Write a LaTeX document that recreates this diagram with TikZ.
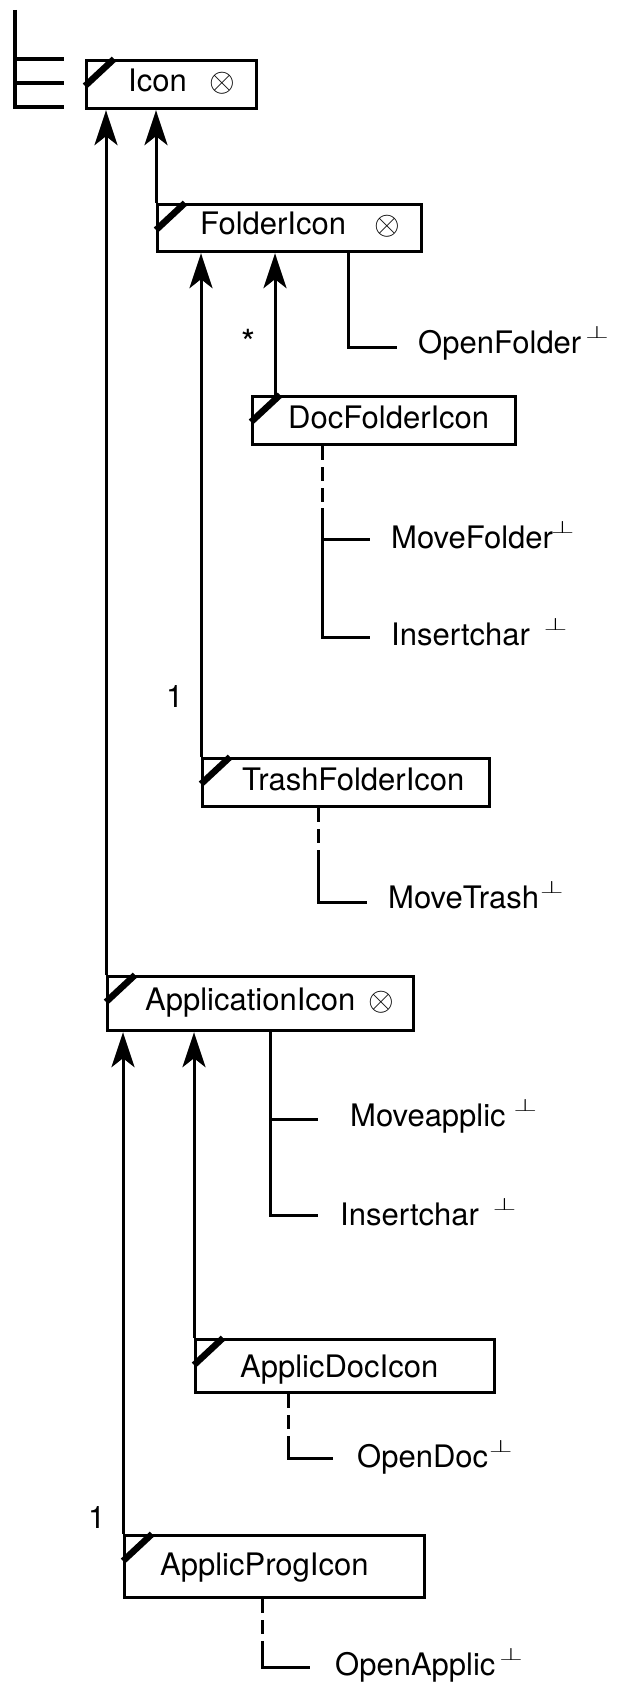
\RequirePackage{fix-cm}
\documentclass[tikz,border=0pt]{standalone}
\usepackage{graphicx}
\usepackage{fontspec}
\setmainfont{TeX Gyre Heros}
\usetikzlibrary{arrows.meta}
% class marker and operation marker
\newcommand\circx{{\fontsize{33pt}{36pt}\selectfont$\otimes$}}
\newcommand\perpmark{\raisebox{15pt}{\scalebox{1.2}[0.72]{\fontsize{25pt}{27pt}\selectfont$\perp$}}}
\tikzset{
  clsbox/.style={draw, line width=3.2pt, inner sep=0pt, anchor=north west},
  clsslash/.style={line width=6.5pt},
  inh/.style={line width=3pt, -{Stealth[length=35pt,width=23pt,inset=9pt]}},
  link/.style={line width=3pt},
  linkdash/.style={line width=3pt, dash pattern=on 14pt off 7pt},
  lbl/.style={anchor=base west, inner sep=0pt},
}
\begin{document}
\begin{tikzpicture}[x=1pt, y=-1pt, font=\fontsize{31pt}{37pt}\selectfont]
\useasboundingbox (0,0) rectangle (616,1685);

% bracket at the top left
\coordinate (bt) at (15,10);
\coordinate (b1) at (15,59);
\coordinate (b2) at (15,83);
\coordinate (bb) at (15,107);
\coordinate (e1) at (64,59);
\coordinate (e2) at (64,83);
\coordinate (e3) at (64,107);
\draw[link, line width=3.4pt] (bt) -- (bb) -- (e3);
\draw[link, line width=3.4pt] (b1) -- (e1);
\draw[link, line width=3.4pt] (b2) -- (e2);

% class boxes
\node[clsbox, minimum width=170pt, minimum height=48pt] (icon)   at (85,59)    {};
\node[clsbox, minimum width=264pt, minimum height=47pt] (folder) at (156,203)  {};
\node[clsbox, minimum width=263pt, minimum height=48pt] (doc)    at (251,395)  {};
\node[clsbox, minimum width=287pt, minimum height=48pt] (trash)  at (201,757)  {};
\node[clsbox, minimum width=306pt, minimum height=54pt] (app)    at (106,975)  {};
\node[clsbox, minimum width=299pt, minimum height=53pt] (adoc)   at (194,1338) {};
\node[clsbox, minimum width=300pt, minimum height=62pt] (aprog)  at (123,1534) {};

% corner slashes
\foreach \b in {icon,folder,doc,trash,app,adoc,aprog}
  \draw[clsslash] ([yshift=-27pt]\b.north west) -- ([xshift=29pt]\b.north west);

% class names
\node[lbl] (iconL)   at (128,92)   {Icon\hspace{23pt}\circx};
\node[lbl] (folderL) at (200,235)  {FolderIcon\hspace{28pt}\circx};
\node[lbl] (docL)    at (288,428)  {DocFolderIcon};
\node[lbl] (trashL)  at (242,790)  {TrashFolderIcon};
\node[lbl] (appL)    at (145,1010) {ApplicationIcon\hspace{13pt}\circx};
\node[lbl] (adocL)   at (240,1377) {ApplicDocIcon};
\node[lbl] (aprogL)  at (160,1575) {ApplicProgIcon};

% inheritance
\draw[inh] (app.north west) -- (app.north west |- icon.south);
\draw[inh] (folder.north west) -- (folder.north west |- icon.south);
\draw[inh] (trash.north west) -- (trash.north west |- folder.south);
\coordinate (doctop) at ([xshift=24pt]doc.north west);
\draw[inh] (doctop) -- (doctop |- folder.south);
\draw[inh] (adoc.north west) -- (adoc.north west |- app.south);
\draw[inh] (aprog.north west) -- (aprog.north west |- app.south);

% multiplicities
\node[anchor=base, inner sep=0pt, font=\fontsize{36pt}{40pt}\selectfont] (star) at (248,355) {*};
\node[lbl] (one1) at (166,707) {1};
\node[lbl] (one2) at (88,1528) {1};

% operations of FolderIcon
\coordinate (fm) at ([xshift=192pt]folder.south west);
\coordinate (ofT) at (397,347);
\draw[link] (fm) |- (ofT);
\node[lbl] (ofL) at (418,353) {OpenFolder\hspace{4pt}\perpmark};

% operations of DocFolderIcon
\coordinate (dm) at ([xshift=71pt]doc.south west);
\coordinate (dmd) at ([yshift=-62pt]dm);
\coordinate (mfT) at (370,539);
\coordinate (icT) at (370,637);
\draw[linkdash] (dm) -- (dmd);
\draw[link] (dmd) |- (icT);
\draw[link] (dm |- mfT) -- (mfT);
\node[lbl] (mfL) at (391,548) {MoveFolder\hspace{-2pt}\perpmark};
\node[lbl] (icL) at (391,645) {Insertchar\hspace{14pt}\perpmark};

% operations of TrashFolderIcon
\coordinate (tm) at ([xshift=117pt]trash.south west);
\coordinate (tmd) at ([yshift=-52pt]tm);
\coordinate (mtT) at (367,902);
\draw[linkdash] (tm) -- (tmd);
\draw[link] (tmd) |- (mtT);
\node[lbl] (mtL) at (388,908) {MoveTrash\hspace{1pt}\perpmark};

% operations of ApplicationIcon
\coordinate (am) at ([xshift=164pt]app.south west);
\coordinate (maT) at (318,1119);
\coordinate (ic2T) at (318,1215);
\draw[link] (am) |- (ic2T);
\draw[link] (am |- maT) -- (maT);
\node[lbl] (maL) at (350,1126) {Moveapplic\hspace{8pt}\perpmark};
\node[lbl] (ic2L) at (340,1225) {Insertchar\hspace{14pt}\perpmark};

% operations of ApplicDocIcon
\coordinate (adm) at ([xshift=94pt]adoc.south west);
\coordinate (admd) at ([yshift=-42pt]adm);
\coordinate (odT) at (333,1458);
\draw[linkdash] (adm) -- (admd);
\draw[link] (admd) |- (odT);
\node[lbl] (odL) at (357,1467) {OpenDoc\hspace{1pt}\perpmark};

% operations of ApplicProgIcon
\coordinate (apm) at ([xshift=139pt]aprog.south west);
\coordinate (apmd) at ([yshift=-44pt]apm);
\coordinate (oaT) at (310,1667);
\draw[linkdash] (apm) -- (apmd);
\draw[link] (apmd) |- (oaT);
\node[lbl] (oaL) at (335,1675) {OpenApplic\hspace{4pt}\perpmark};
\end{tikzpicture}
\end{document}
